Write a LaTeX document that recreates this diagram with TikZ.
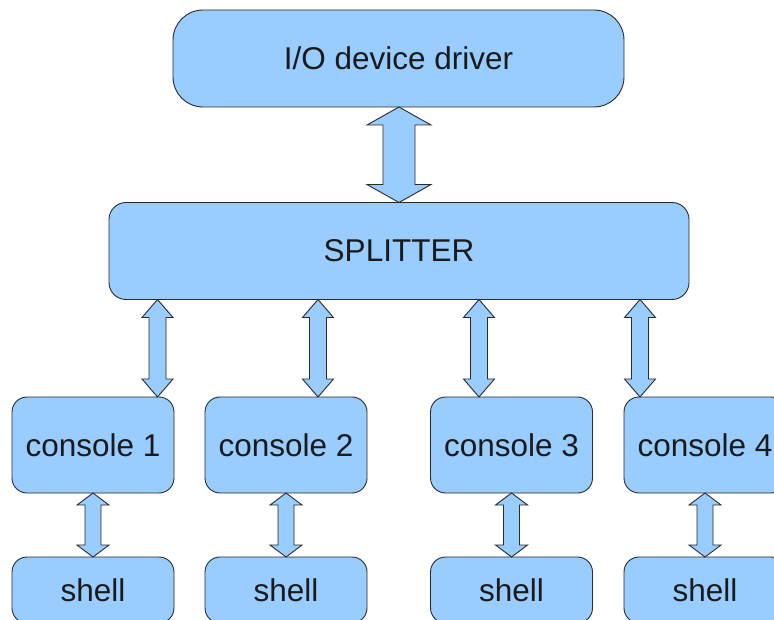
\documentclass[tikz,border=0pt]{standalone}
\usepackage{fontspec}
\setmainfont{Liberation Sans}
\usetikzlibrary{calc}
\definecolor{boxfill}{HTML}{99CCFF}
\definecolor{boxline}{HTML}{2A2A2A}
\definecolor{txt}{HTML}{1A1A1A}
\tikzset{
  box/.style={draw=boxline, fill=boxfill, line width=0.9pt, outer sep=0pt, inner sep=0pt,
    text=txt, font=\fontsize{31.5}{36}\selectfont},
  dblarr/.style={draw=boxline, fill=boxfill, line width=0.9pt, line join=miter},
}
\newcommand\vdarrow[5]{%
  \draw[dblarr] let \p1=#1, \p2=#2 in
    (\x1,\y1) -- (\x1+#4,\y1-#5) -- (\x1+#3,\y1-#5) -- (\x1+#3,\y2+#5) -- (\x1+#4,\y2+#5)
    -- (\x1,\y2) -- (\x1-#4,\y2+#5) -- (\x1-#3,\y2+#5) -- (\x1-#3,\y1-#5) -- (\x1-#4,\y1-#5) -- cycle;}
\begin{document}
\begin{tikzpicture}[x=1pt,y=-1pt]
\useasboundingbox (0,0) rectangle (774,620);
\clip (0,0) rectangle (774,620);
\fill[white] (0,0) rectangle (774,620);
% boxes
\node[box, minimum width=451pt, minimum height=97pt, rounded corners=30pt] (drv) at (398.5,58.5) {I/O device driver};
\node[box, minimum width=580pt, minimum height=97pt, rounded corners=17pt] (spl) at (399,251) {SPLITTER};
\foreach \i/\cx in {1/93,2/286,3/511.5,4/705}{
  \node[box, minimum width=162pt, minimum height=96pt, rounded corners=15pt] (con\i) at (\cx,445) {console \i};
  \node[box, minimum width=162pt, minimum height=66pt, rounded corners=15pt] (sh\i) at (\cx,590) {shell};
}
% arrow axes
\coordinate (ax0) at (399,0);
\coordinate (ax1) at (157.5,0);
\coordinate (ax2) at (318,0);
\coordinate (ax3) at (479,0);
\coordinate (ax4) at (640,0);
% arrows
\vdarrow{(drv.south -| ax0)}{(spl.north -| ax0)}{16pt}{32pt}{18pt}
\foreach \i in {1,2,3,4}{
  \vdarrow{(spl.south -| ax\i)}{(con\i.north -| ax\i)}{8.5pt}{15.5pt}{18pt}
  \vdarrow{(con\i.south)}{(sh\i.north)}{8pt}{16pt}{12pt}
}
\end{tikzpicture}
\end{document}
